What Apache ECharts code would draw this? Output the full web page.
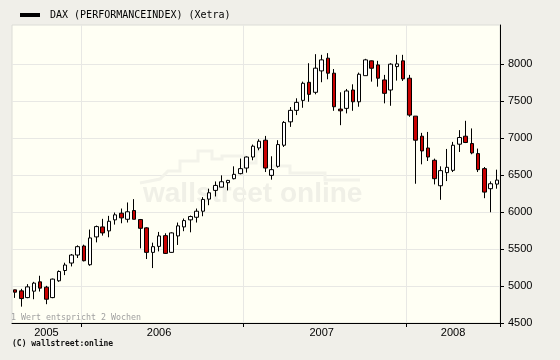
<!DOCTYPE html>
<html>
<head>
<meta charset="utf-8">
<script src="https://cdn.jsdelivr.net/npm/echarts@6/dist/echarts.min.js"></script>
<style>
html,body{margin:0;padding:0;background:#f0efe9;}
#c{width:560px;height:360px;}
</style>
</head>
<body>
<div id="c"></div>
<script>
// Years and number of two-week candles in each (1 Wert entspricht 2 Wochen)
const years = ['2005', '2006', '2007', '2008'];
const candlesPerYear = [11, 26, 26, 15];
const yTicks = [4500, 5000, 5500, 6000, 6500, 7000, 7500, 8000];

// Candle values
const opens = [4948, 4934, 4843, 4930, 5056, 4984, 4843, 5070, 5209, 5310, 5418,
  5540, 5287, 5663, 5798, 5744, 5893, 5983, 5901, 6019, 5897, 5785, 5454, 5535, 5680, 5454,
  5676, 5798, 5893, 5928, 6010, 6173, 6291, 6335, 6395, 6449, 6517,
  6593, 6742, 6864, 6969, 6494, 6616, 6901, 7217, 7372, 7507, 7751, 7616, 7905,
  8077, 7874, 7389, 7399, 7647, 7488, 7841, 8041, 7986, 7783, 7647, 7963, 8041,
  7806, 7294, 7023, 6864, 6698, 6354, 6531, 6562, 6915, 7023, 6924, 6788, 6585, 6314, 6376];
const closes = [4916, 4830, 4988, 5039, 4971, 4821, 5093, 5196, 5283, 5418, 5531,
  5341, 5649, 5802, 5717, 5874, 5961, 5920, 6002, 5901, 5779, 5454, 5531, 5676, 5440, 5717,
  5812, 5883, 5938, 6010, 6169, 6259, 6358, 6408, 6426, 6508, 6585,
  6742, 6888, 6955, 6593, 6571, 6910, 7209, 7372, 7480, 7738, 7588, 7942, 8054,
  7874, 7421, 7366, 7634, 7488, 7860, 8054, 7941, 7806, 7602, 7996, 8000, 7797,
  7308, 6969, 6824, 6742, 6449, 6558, 6603, 6901, 7005, 6938, 6797, 6571, 6268, 6381, 6430];
const lows = [4839, 4721, 4835, 4821, 4925, 4754, 4835, 5056, 5147, 5264, 5378,
  5332, 5273, 5589, 5680, 5658, 5829, 5847, 5857, 5901, 5508, 5364, 5242, 5467, 5432, 5450,
  5554, 5740, 5725, 5857, 5942, 6091, 6209, 6331, 6291, 6440, 6508,
  6531, 6698, 6833, 6539, 6436, 6598, 6878, 7149, 7308, 7407, 7488, 7589, 7752,
  7792, 7366, 7172, 7331, 7366, 7421, 7841, 7760, 7692, 7467, 7434, 7774, 7769,
  7285, 6381, 6643, 6688, 6372, 6164, 6417, 6539, 6810, 6930, 6779, 6539, 6186, 5996, 6314];
const highs = [4950, 4961, 5025, 5056, 5138, 5002, 5100, 5210, 5314, 5432, 5549,
  5558, 5762, 5816, 5907, 5947, 5992, 6046, 6128, 6173, 5905, 5793, 5585, 5730, 5712, 5725,
  5857, 5911, 5951, 6046, 6200, 6314, 6412, 6494, 6433, 6616, 6721,
  6750, 6910, 6982, 7027, 6752, 6969, 7227, 7417, 7535, 7760, 8009, 8131, 8122,
  8145, 7930, 7616, 7661, 7724, 7882, 8068, 8045, 8041, 7851, 8009, 8122, 8122,
  7851, 7294, 7068, 7081, 6720, 6616, 6851, 6946, 7105, 7231, 7128, 6856, 6607, 6413, 6571];

const categories = [];
years.forEach((y, i) => { for (let k = 0; k < candlesPerYear[i]; k++) categories.push(y); });
const yearStart = [], yearLabelIdx = [];
let acc = 0;
candlesPerYear.forEach(n => { yearStart.push(acc); yearLabelIdx.push(Math.floor(acc + (n - 1) / 2)); acc += n; });
const boundaryIdx = yearStart.slice(1);

const seriesData = opens.map((o, i) => [o, closes[i], lows[i], highs[i]]);
const seriesName = 'DAX (PERFORMANCEINDEX) (Xetra)';

const chart = echarts.init(document.getElementById('c'), null, {renderer: 'canvas'});
chart.setOption({
  backgroundColor: '#f0efe9',
  animation: false,
  legend: {
    left: 15, top: 5, itemWidth: 20, itemHeight: 4, itemGap: 0, selectedMode: false,
    textStyle: {fontFamily: 'DejaVu Sans Mono', fontSize: 10, color: '#000', padding: [0, 0, 0, 5]},
    data: [{name: seriesName, icon: 'rect', itemStyle: {color: '#000', borderWidth: 0}}]
  },
  grid: {
    left: 12, right: 60, top: 25, bottom: 37,
    show: true, backgroundColor: '#fffff4', borderColor: '#dcdcd6', borderWidth: 1
  },
  graphic: [
    {type: 'polyline', z: 1, silent: true,
      shape: {points: [[140,183],[160,179],[168,171],[180,171],[180,161],[198,161],[198,151],[212,151],[212,159],[222,159],[222,156],[245,156],[245,163],[256,163],[256,151],[262,151],[262,166],[290,166],[290,173],[325,173],[325,180],[360,180]]},
      style: {stroke: '#f3f3ea', lineWidth: 3, fill: null}},
    {type: 'text', z: 1, silent: true, left: 143, top: 180,
      style: {text: 'wallstreet online', fill: '#f0f0e7', font: 'bold 28px "Liberation Sans"'}},
    {type: 'text', left: 11, top: 314,
      style: {text: '1 Wert entspricht 2 Wochen', fill: '#a0a0a0', font: '8.3px "DejaVu Sans Mono"'}},
    {type: 'text', left: 12, top: 340,
      style: {text: '(C) wallstreet:online', fill: '#111', font: 'bold 8px "DejaVu Sans Mono"'}}
  ],
  xAxis: {
    type: 'category', data: categories, boundaryGap: true,
    axisLine: {lineStyle: {color: '#000', width: 1}},
    axisTick: {show: true, length: 4, lineStyle: {color: '#000'},
      interval: (i) => boundaryIdx.indexOf(i) >= 0},
    splitLine: {show: true, lineStyle: {color: '#e8e8e4', width: 1},
      interval: (i) => boundaryIdx.indexOf(i) >= 0},
    axisLabel: {margin: 4, color: '#000', fontFamily: 'Liberation Sans', fontSize: 11,
      interval: (i) => yearLabelIdx.indexOf(i) >= 0}
  },
  yAxis: {
    type: 'value', position: 'right', min: 4500, max: 8525, interval: 500, scale: true,
    axisLine: {show: true, lineStyle: {color: '#000', width: 1}},
    axisTick: {show: true, length: 4, lineStyle: {color: '#000'}, customValues: yTicks},
    axisLabel: {margin: 8, color: '#000', fontFamily: 'Liberation Sans', fontSize: 11, customValues: yTicks,
      formatter: (v) => String(v)},
    splitLine: {show: true, lineStyle: {color: '#e8e8e4', width: 1}}
  },
  series: [{
    name: seriesName, type: 'candlestick', data: seriesData, barWidth: 4, z: 3,
    itemStyle: {color: '#ffffff', color0: '#c80000', borderColor: '#000', borderColor0: '#000', borderWidth: 1}
  }]
});
</script>
</body>
</html>
